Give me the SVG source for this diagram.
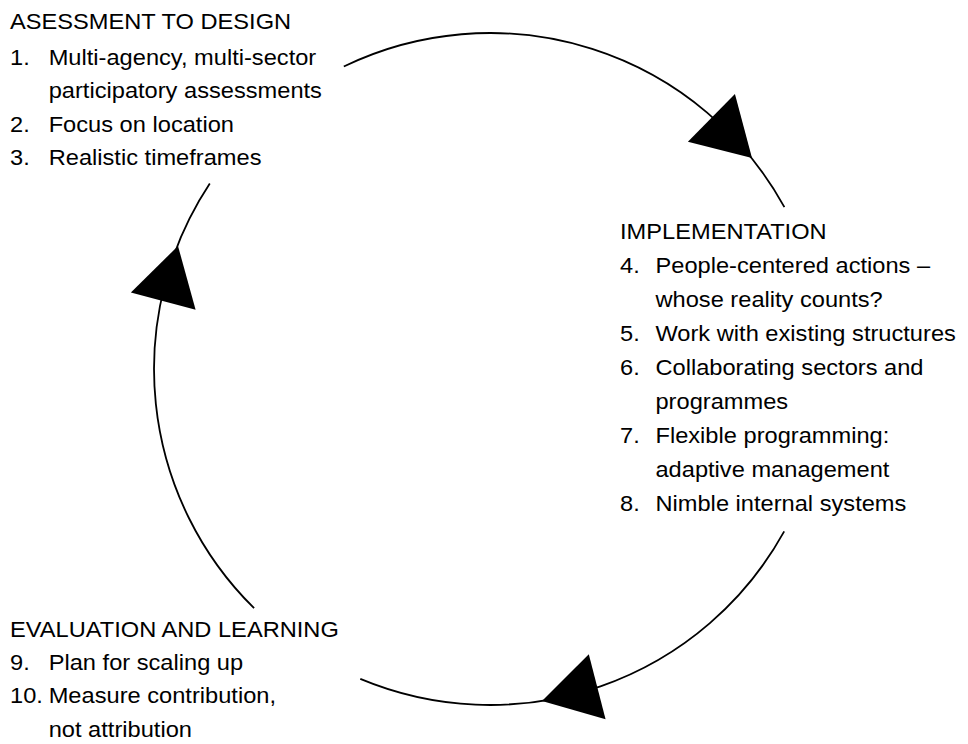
<svg xmlns="http://www.w3.org/2000/svg" xmlns:xlink="http://www.w3.org/1999/xlink" width="968" height="744" viewBox="0 0 968 744">
  <style>
    .t { font-family: "Liberation Sans", Arial, Helvetica, sans-serif; font-size: 22px; fill: #000; }
    .arc { fill: none; stroke: #000; stroke-width: 1.8; }
    .head { fill: #000; stroke: none; }
  </style>
  <defs>
    <polygon id="ah" class="head" points="0,0 -57,-33.5 -57,33.5"/>
  </defs>
  <rect width="968" height="744" fill="#fff"/>

  <g id="connectors">
    <path class="arc" d="M343.8 66.5 A336 336 0 0 1 784.4 207.1"/>
    <path class="arc" d="M784.2 531.4 A336 336 0 0 1 360.3 678.9"/>
    <path class="arc" d="M254.1 608.2 A336 336 0 0 1 209.8 183.6"/>
    <use href="#ah" xlink:href="#ah" transform="translate(752 158) rotate(44.6)"/>
    <use href="#ah" xlink:href="#ah" transform="translate(542 701) rotate(165.5)"/>
    <use href="#ah" xlink:href="#ah" transform="translate(178 246) rotate(-75)"/>
  </g>

  <g id="assessment" transform="translate(10 0) scale(1.075 1)">
    <text class="t" x="0" y="29.5">ASESSMENT TO DESIGN</text>
    <text class="t" x="0" y="65">1.</text>
    <text class="t" x="36" y="65">Multi-agency, multi-sector</text>
    <text class="t" x="36" y="98.3">participatory assessments</text>
    <text class="t" x="0" y="131.7">2.</text>
    <text class="t" x="36" y="131.7">Focus on location</text>
    <text class="t" x="0" y="165">3.</text>
    <text class="t" x="36" y="165">Realistic timeframes</text>
  </g>

  <g id="implementation" transform="translate(620 0) scale(1.075 1)">
    <text class="t" x="0" y="239">IMPLEMENTATION</text>
    <text class="t" x="0" y="273.3">4.</text>
    <text class="t" x="33" y="273.3">People-centered actions –</text>
    <text class="t" x="33" y="307">whose reality counts?</text>
    <text class="t" x="0" y="341">5.</text>
    <text class="t" x="33" y="341">Work with existing structures</text>
    <text class="t" x="0" y="375.5">6.</text>
    <text class="t" x="33" y="375.5">Collaborating sectors and</text>
    <text class="t" x="33" y="409">programmes</text>
    <text class="t" x="0" y="443.3">7.</text>
    <text class="t" x="33" y="443.3">Flexible programming:</text>
    <text class="t" x="33" y="477">adaptive management</text>
    <text class="t" x="0" y="511.5">8.</text>
    <text class="t" x="33" y="511.5">Nimble internal systems</text>
  </g>

  <g id="evaluation" transform="translate(10 0) scale(1.075 1)">
    <text class="t" x="0" y="637">EVALUATION AND LEARNING</text>
    <text class="t" x="0" y="670">9.</text>
    <text class="t" x="36" y="670">Plan for scaling up</text>
    <text class="t" x="0" y="703.3">10.</text>
    <text class="t" x="36" y="703.3">Measure contribution,</text>
    <text class="t" x="36" y="736.7">not attribution</text>
  </g>
</svg>
